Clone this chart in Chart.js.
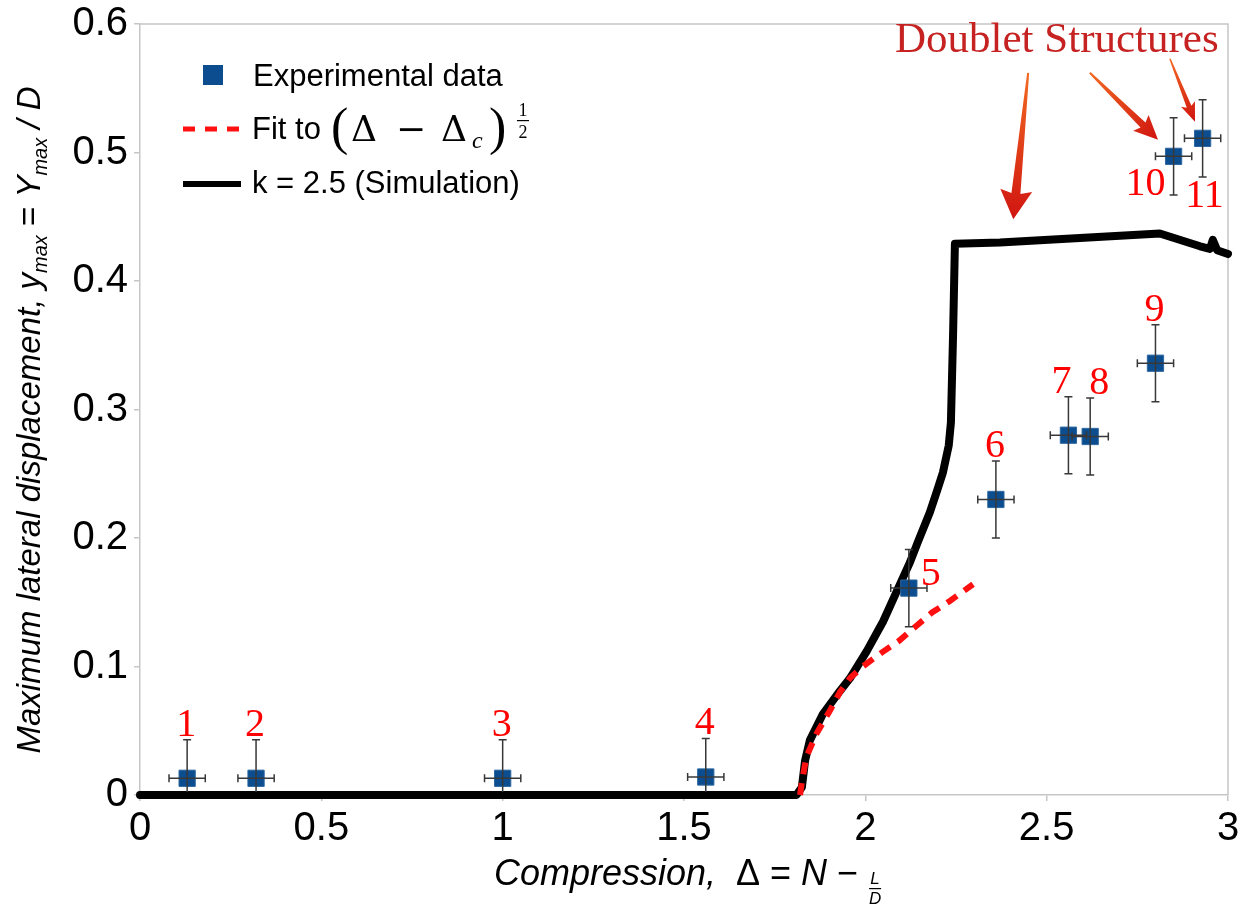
<!DOCTYPE html>
<html>
<head>
<meta charset="utf-8">
<title>Maximum lateral displacement vs compression</title>
<script src="https://cdn.jsdelivr.net/npm/chart.js@4/dist/chart.umd.min.js"></script>
<style>
  html, body { margin: 0; padding: 0; background: #ffffff; }
  canvas { display: block; }
</style>
</head>
<body>
<canvas id="chart" width="1253" height="907"></canvas>
<script>
// experimental points, numbered 1..11
const expLabels = ['1', '2', '3', '4', '5', '6', '7', '8', '9', '10', '11'];
const expX = [0.13, 0.32, 1.00, 1.56, 2.12, 2.36, 2.56, 2.62, 2.80, 2.85, 2.93];
const expY = [0.013, 0.013, 0.013, 0.014, 0.161, 0.230, 0.280, 0.279, 0.336, 0.497, 0.511];
const expXErr = [0.05, 0.05, 0.05, 0.05, 0.05, 0.05, 0.05, 0.05, 0.05, 0.05, 0.05];
const expYErr = [0.03, 0.03, 0.03, 0.03, 0.03, 0.03, 0.03, 0.03, 0.03, 0.03, 0.03];

// simulation, k = 2.5
const simX = [0, 1.81, 1.825, 1.834, 1.847, 1.883, 1.930, 1.958, 2.004, 2.049, 2.086, 2.123,
  2.145, 2.178, 2.198, 2.214, 2.230, 2.236, 2.242, 2.247, 2.371, 2.812, 2.923, 2.950, 2.958, 2.970, 3.0];
const simY = [0, 0, 0.006, 0.027, 0.0425, 0.063, 0.081, 0.091, 0.112, 0.135, 0.158, 0.181,
  0.197, 0.220, 0.237, 0.251, 0.272, 0.290, 0.359, 0.429, 0.430, 0.437, 0.427, 0.425, 0.432, 0.424, 0.421];

// fit to (Δ - Δc)^1/2
const fitX = [1.82, 1.826, 1.838, 1.866, 1.903, 1.930, 1.958, 1.993, 2.046, 2.093, 2.138, 2.184, 2.233, 2.297];
const fitY = [0, 0.012, 0.030, 0.048, 0.066, 0.080, 0.091, 0.100, 0.111, 0.120, 0.131, 0.142, 0.151, 0.164];

const xTickValues = [0, 0.5, 1, 1.5, 2, 2.5, 3];
const xTickLabels = ['0', '0.5', '1', '1.5', '2', '2.5', '3'];
const yTickValues = [0, 0.1, 0.2, 0.3, 0.4, 0.5, 0.6];
const yTickLabels = ['0', '0.1', '0.2', '0.3', '0.4', '0.5', '0.6'];

// where each point number sits relative to its point
const labelPlace = ['top', 'top', 'top', 'top', 'right', 'top', 'topLeft', 'topRight', 'top', 'left', 'below'];

// "Doublet Structures" arrows, in data units
const arrows = [
  { from: [2.449, 0.562], to: [2.408, 0.448], tail: 2, shaft: 9, head: 32, headLen: 26 },
  { from: [2.619, 0.562], to: [2.807, 0.510], tail: 2, shaft: 7, head: 22, headLen: 21 },
  { from: [2.840, 0.573], to: [2.909, 0.524], tail: 1.5, shaft: 5, head: 15, headLen: 16 }
];

const SANS = '"Liberation Sans", Arial, sans-serif';
const SERIF = '"Liberation Serif", "Times New Roman", serif';
const MATH = '"DejaVu Serif", serif';
const FRAME = '#c6c6c6';

const toXY = (xs, ys) => xs.map((x, i) => ({ x: x, y: ys[i] }));

function runsWidth(ctx, runs) {
  let w = 0;
  runs.forEach(r => { ctx.font = r.font; w += ctx.measureText(r.text).width; });
  return w;
}

function drawRuns(ctx, runs, x, y) {
  runs.forEach(r => {
    ctx.font = r.font;
    ctx.fillText(r.text, x, y + (r.dy || 0));
    x += ctx.measureText(r.text).width;
  });
  return x;
}

function drawArrow(ctx, x1, y1, x2, y2, a) {
  const len = Math.hypot(x2 - x1, y2 - y1);
  const ux = (x2 - x1) / len, uy = (y2 - y1) / len;
  const nx = -uy, ny = ux;
  const bx = x2 - ux * a.headLen, by = y2 - uy * a.headLen;
  const g = ctx.createLinearGradient(x1, y1, x2, y2);
  g.addColorStop(0, '#f26a22');
  g.addColorStop(1, '#d01510');
  ctx.fillStyle = g;
  ctx.beginPath();
  ctx.moveTo(x1 + nx * a.tail / 2, y1 + ny * a.tail / 2);
  ctx.lineTo(bx + nx * a.shaft / 2, by + ny * a.shaft / 2);
  ctx.lineTo(bx + nx * a.head / 2 - ux * 3, by + ny * a.head / 2 - uy * 3);
  ctx.lineTo(x2, y2);
  ctx.lineTo(bx - nx * a.head / 2 - ux * 3, by - ny * a.head / 2 - uy * 3);
  ctx.lineTo(bx - nx * a.shaft / 2, by - ny * a.shaft / 2);
  ctx.lineTo(x1 - nx * a.tail / 2, y1 - ny * a.tail / 2);
  ctx.closePath();
  ctx.fill();
}

const decor = {
  id: 'decor',
  beforeDraw(chart) {
    const ctx = chart.ctx;
    ctx.save();
    ctx.fillStyle = '#ffffff';
    ctx.fillRect(0, 0, chart.width, chart.height);
    ctx.restore();
  },
  beforeDatasetsDraw(chart) {
    // top and right sides of the frame
    const { ctx, chartArea: a } = chart;
    ctx.save();
    ctx.strokeStyle = FRAME;
    ctx.lineWidth = 1.5;
    ctx.beginPath();
    ctx.moveTo(a.left, a.top);
    ctx.lineTo(a.right, a.top);
    ctx.lineTo(a.right, a.bottom);
    ctx.stroke();
    ctx.restore();
  },
  afterDatasetsDraw(chart) {
    const { ctx, chartArea: a, scales: { x, y } } = chart;

    // error bars, clipped to the plot area
    ctx.save();
    ctx.beginPath();
    ctx.rect(a.left, a.top, a.right - a.left, a.bottom - a.top - 3);
    ctx.clip();
    ctx.strokeStyle = '#383838';
    ctx.lineWidth = 1.5;
    expX.forEach((v, i) => {
      const px = x.getPixelForValue(v), py = y.getPixelForValue(expY[i]);
      const x0 = x.getPixelForValue(v - expXErr[i]), x1 = x.getPixelForValue(v + expXErr[i]);
      const y0 = y.getPixelForValue(expY[i] - expYErr[i]), y1 = y.getPixelForValue(expY[i] + expYErr[i]);
      ctx.beginPath();
      ctx.moveTo(x0, py); ctx.lineTo(x1, py);
      ctx.moveTo(x0, py - 4); ctx.lineTo(x0, py + 4);
      ctx.moveTo(x1, py - 4); ctx.lineTo(x1, py + 4);
      ctx.moveTo(px, y0); ctx.lineTo(px, y1);
      ctx.moveTo(px - 4, y0); ctx.lineTo(px + 4, y0);
      ctx.moveTo(px - 4, y1); ctx.lineTo(px + 4, y1);
      ctx.stroke();
    });
    ctx.restore();

    // point numbers
    ctx.save();
    ctx.fillStyle = '#ff0000';
    ctx.font = '40px ' + SERIF;
    ctx.textBaseline = 'alphabetic';
    expLabels.forEach((t, i) => {
      const px = x.getPixelForValue(expX[i]), py = y.getPixelForValue(expY[i]);
      const top = y.getPixelForValue(expY[i] + expYErr[i]);
      const bot = y.getPixelForValue(expY[i] - expYErr[i]);
      const p = labelPlace[i];
      if (p === 'right') {
        ctx.textAlign = 'left';
        ctx.fillText(t, px + 12, py - 3);
      } else if (p === 'left') {
        ctx.textAlign = 'right';
        ctx.fillText(t, px - 8, bot);
      } else if (p === 'below') {
        ctx.textAlign = 'center';
        ctx.fillText(t, px + 2, bot + 30);
      } else {
        const dx = p === 'topLeft' ? -7 : p === 'topRight' ? 9 : -1;
        ctx.textAlign = 'center';
        ctx.fillText(t, px + dx, top - 4);
      }
    });
    ctx.restore();
  },
  afterDraw(chart) {
    const { ctx, chartArea: a, scales: { x, y } } = chart;
    ctx.save();
    ctx.fillStyle = '#000';
    ctx.textAlign = 'left';
    ctx.textBaseline = 'alphabetic';

    // legend
    const lx = a.left + 43;
    ctx.fillStyle = '#0b4d8e';
    ctx.fillRect(lx + 20, a.top + 41, 20, 20);
    ctx.fillStyle = '#000';
    ctx.font = '31px ' + SANS;
    ctx.fillText('Experimental data', lx + 70, a.top + 62);

    ctx.strokeStyle = '#ff1010';
    ctx.lineWidth = 5;
    ctx.setLineDash([12, 10]);
    ctx.beginPath();
    ctx.moveTo(lx, a.top + 105);
    ctx.lineTo(lx + 56, a.top + 105);
    ctx.stroke();
    ctx.setLineDash([]);
    ctx.font = '31px ' + SANS;
    ctx.fillText('Fit to', lx + 69, a.top + 115);
    // (Δ − Δc)^(1/2)
    ctx.font = '52px ' + SERIF;
    ctx.fillText('(', lx + 148, a.top + 120);
    ctx.font = '36px ' + MATH;
    ctx.fillText('Δ', lx + 168, a.top + 117);
    ctx.fillText('−', lx + 213, a.top + 117);
    ctx.fillText('Δ', lx + 258, a.top + 117);
    ctx.font = 'italic 24px ' + SERIF;
    ctx.fillText('c', lx + 289, a.top + 124);
    ctx.font = '52px ' + SERIF;
    ctx.fillText(')', lx + 306, a.top + 120);
    ctx.font = '18px ' + SERIF;
    ctx.textAlign = 'center';
    ctx.fillText('1', lx + 340, a.top + 92);
    ctx.fillText('2', lx + 340, a.top + 114);
    ctx.fillRect(lx + 334, a.top + 96, 12, 1.2);
    ctx.textAlign = 'left';

    ctx.strokeStyle = '#000';
    ctx.lineWidth = 6;
    ctx.beginPath();
    ctx.moveTo(lx, a.top + 160);
    ctx.lineTo(lx + 58, a.top + 160);
    ctx.stroke();
    ctx.font = '31px ' + SANS;
    ctx.fillText('k = 2.5 (Simulation)', lx + 69, a.top + 169);

    // y axis title
    const IT = s => 'italic ' + s + 'px ' + SANS;
    const RG = s => s + 'px ' + SANS;
    const yRuns = [
      { text: 'Maximum lateral displacement, ', font: IT(33) },
      { text: 'y', font: IT(33) },
      { text: 'max', font: IT(20), dy: 7 },
      { text: ' = ', font: RG(33) },
      { text: 'Y', font: IT(33) },
      { text: 'max', font: IT(20), dy: 7 },
      { text: ' / ', font: IT(33) },
      { text: 'D', font: IT(33) }
    ];
    ctx.save();
    ctx.translate(40, 420);
    ctx.rotate(-Math.PI / 2);
    drawRuns(ctx, yRuns, -runsWidth(ctx, yRuns) / 2, 0);
    ctx.restore();

    // x axis title
    const xRuns = [
      { text: 'Compression,  ', font: IT(36) },
      { text: 'Δ', font: RG(36) },
      { text: ' = ', font: RG(36) },
      { text: 'N', font: IT(36) },
      { text: ' − ', font: RG(36) }
    ];
    const fracW = 14;
    const xw = runsWidth(ctx, xRuns) + fracW;
    let cx = drawRuns(ctx, xRuns, (a.left + a.right) / 2 + 4 - xw / 2, 885);
    ctx.font = 'italic 17px ' + SANS;
    ctx.textAlign = 'center';
    ctx.fillText('L', cx + fracW / 2, 884);
    ctx.fillRect(cx + 1, 888, fracW - 2, 1.2);
    ctx.fillText('D', cx + fracW / 2, 904);

    // annotation
    ctx.textAlign = 'left';
    ctx.fillStyle = '#c62222';
    ctx.font = '43px ' + SERIF;
    ctx.fillText('Doublet Structures', 895, 52);
    arrows.forEach(ar => {
      drawArrow(ctx,
        x.getPixelForValue(ar.from[0]), y.getPixelForValue(ar.from[1]),
        x.getPixelForValue(ar.to[0]), y.getPixelForValue(ar.to[1]), ar);
    });
    ctx.restore();
  }
};

new Chart(document.getElementById('chart'), {
  type: 'scatter',
  data: {
    datasets: [
      {
        label: 'k = 2.5 (Simulation)',
        data: toXY(simX, simY),
        showLine: true,
        borderColor: '#000000',
        borderWidth: 8,
        borderJoinStyle: 'round',
        borderCapStyle: 'round',
        pointRadius: 0,
        clip: 8,
        order: 3
      },
      {
        label: 'Fit to (Δ − Δc)^1/2',
        data: toXY(fitX, fitY),
        showLine: true,
        borderColor: '#ff1010',
        borderWidth: 6,
        borderDash: [12, 9],
        pointRadius: 0,
        clip: 8,
        order: 2
      },
      {
        label: 'Experimental data',
        data: toXY(expX, expY),
        pointStyle: 'rect',
        pointRadius: 11.5,
        backgroundColor: '#0b4d8e',
        borderColor: '#2d67a0',
        borderWidth: 1,
        order: 1
      }
    ]
  },
  options: {
    responsive: false,
    devicePixelRatio: 1,
    animation: false,
    layout: { padding: { top: 18, right: 25, left: 0, bottom: 0 } },
    plugins: {
      legend: { display: false },
      tooltip: { enabled: false }
    },
    scales: {
      x: {
        type: 'linear',
        min: 0,
        max: 3,
        afterBuildTicks: s => { s.ticks = xTickValues.map(v => ({ value: v })); },
        afterFit: s => { s.height = 112; },
        ticks: {
          callback: (v, i) => xTickLabels[i],
          font: { family: SANS, size: 40 },
          color: '#000',
          padding: 4,
          maxRotation: 0,
          autoSkip: false
        },
        grid: { drawOnChartArea: false, tickLength: 6, color: FRAME, lineWidth: 1.5 },
        border: { color: FRAME, width: 1.5 }
      },
      y: {
        type: 'linear',
        min: 0,
        max: 0.6,
        afterBuildTicks: s => { s.ticks = yTickValues.map(v => ({ value: v })); },
        afterFit: s => { s.width = 140; },
        ticks: {
          callback: (v, i) => yTickLabels[i],
          font: { family: SANS, size: 40, lineHeight: 0.9 },
          color: '#000',
          padding: 6,
          autoSkip: false
        },
        grid: { drawOnChartArea: false, tickLength: 6, color: FRAME, lineWidth: 1.5 },
        border: { color: FRAME, width: 1.5 }
      }
    }
  },
  plugins: [decor]
});
</script>
</body>
</html>
